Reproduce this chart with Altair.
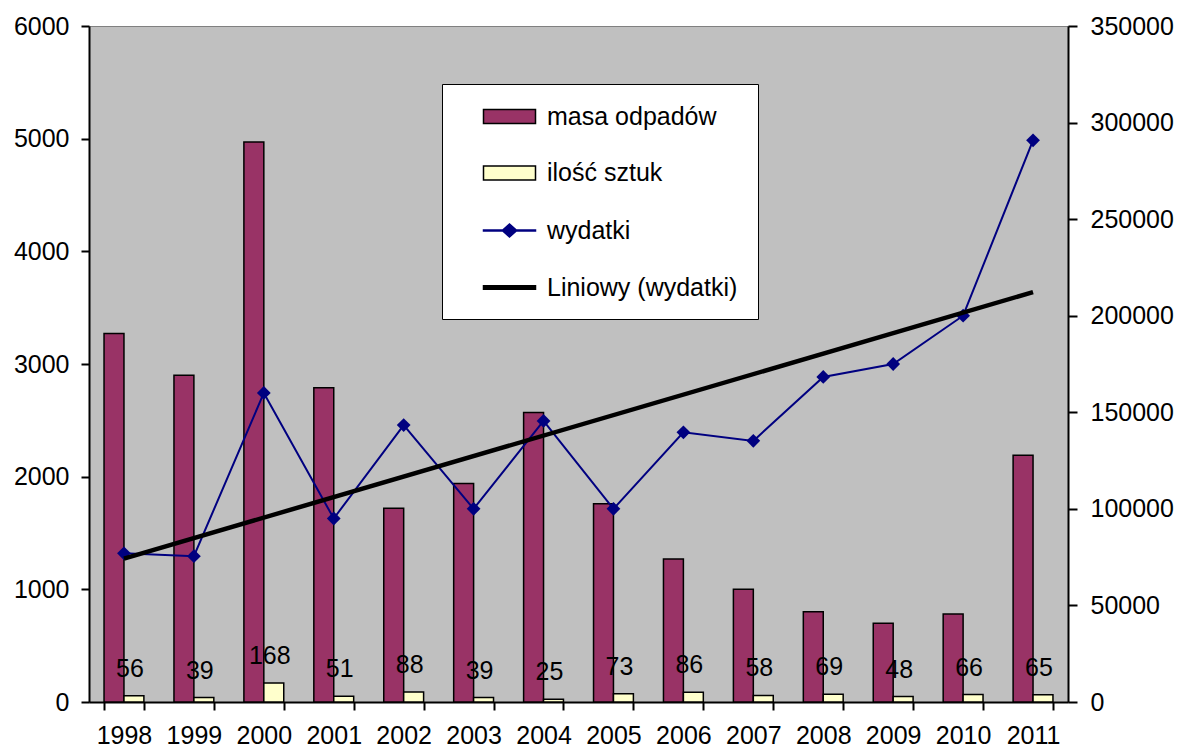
import json
import altair as alt
import pandas as pd

FONT = "Liberation Sans"

years = ["1998", "1999", "2000", "2001", "2002", "2003", "2004",
         "2005", "2006", "2007", "2008", "2009", "2010", "2011"]
masa = [3270, 2900, 4970, 2790, 1720, 1940, 2570, 1760, 1270, 1000, 800, 700, 780, 2190]
sztuk = [56, 39, 168, 51, 88, 39, 25, 73, 86, 58, 69, 48, 66, 65]
wydatki = [77000, 75500, 160000, 95000, 143400, 100000, 145500,
           100000, 139600, 135200, 168300, 175000, 200000, 290800]

series_names = ["masa odpadów", "ilość sztuk", "wydatki", "Liniowy (wydatki)"]
fill_colors = ["#993366", "#FFFFCC", "#000080", "#000000"]

rect_path = "M0.9,-0.7L6.1,-0.7L6.1,0.7L0.9,0.7Z"
diamond_line_path = ("M0.9,-0.06L2.85,-0.06L3.5,-0.65L4.15,-0.06L6.1,-0.06L6.1,0.06"
                     "L4.15,0.06L3.5,0.65L2.85,0.06L0.9,0.06Z")
thick_line_path = "M0.9,-0.17L6.1,-0.17L6.1,0.17L0.9,0.17Z"

bars_df = pd.DataFrame({
    "year": years * 2,
    "series": [series_names[0]] * len(years) + [series_names[1]] * len(years),
    "value": masa + sztuk,
})
wide_df = pd.DataFrame({"year": years, "idx": list(range(len(years))), "wydatki": wydatki})

x_enc = alt.X(
    "year:N", sort=years,
    scale=alt.Scale(domain=years, paddingInner=0.43, paddingOuter=0.215),
    axis=alt.Axis(title=None, labelAngle=0, tickBand="extent", labelPadding=13),
)
x_off = alt.XOffset("series:N", sort=series_names[:2], scale=alt.Scale(domain=series_names[:2]))

left_scale = alt.Scale(domain=[0, 6000], nice=False)
right_scale = alt.Scale(domain=[0, 350000], nice=False)

y_left = alt.Y("value:Q", scale=left_scale,
               axis=alt.Axis(values=list(range(0, 6001, 1000)), title=None, orient="left", format="d"))
y_left_noaxis = alt.Y("value:Q", scale=left_scale, axis=None)
y_right = alt.Y("wydatki:Q", scale=right_scale,
                axis=alt.Axis(values=list(range(0, 350001, 50000)), title=None, orient="right",
                              tickSize=9, labelPadding=13, format="d"))
y_right_noaxis = alt.Y("wydatki:Q", scale=right_scale, axis=None)

bars = alt.Chart(bars_df).mark_bar(stroke="black", strokeWidth=1.5).encode(
    x=x_enc, xOffset=x_off, y=y_left,
    fill=alt.Fill("series:N", scale=alt.Scale(domain=series_names[:2], range=fill_colors[:2]), legend=None),
)
labels = alt.Chart(bars_df).transform_filter(
    alt.datum.series == series_names[1]
).mark_text(font=FONT, fontSize=25, baseline="alphabetic", dy=-19, dx=-4, color="black").encode(
    x=x_enc, xOffset=x_off, y=y_left_noaxis, text="value:Q",
)
line = alt.Chart(wide_df).mark_line(
    color="#000080", strokeWidth=2,
    point=alt.OverlayMarkDef(shape="diamond", size=190, filled=True, color="#000080"),
).encode(x=x_enc, y=y_right)
trend = alt.Chart(wide_df).transform_regression(
    "idx", "wydatki", method="linear"
).transform_calculate(
    year=f"{json.dumps(years)}[round(datum.idx)]"
).mark_line(color="black", strokeWidth=4.5).encode(x=x_enc, y=y_right_noaxis)

common = dict(
    title=None, orient="none", symbolSize=400, symbolStrokeWidth=1.5, symbolOpacity=1,
    labelFont=FONT, labelFontSize=25, labelColor="black", labelOffset=60, labelLimit=500,
    fillColor="white",
)

# main legend box (all four entries, bar symbols)
leg_main = alt.Legend(legendX=353, legendY=58, padding=20, rowPadding=30.5,
                      strokeColor="black", symbolType=rect_path, symbolStrokeColor="black", **common)
legend_main = alt.Chart(pd.DataFrame({"series": series_names})).mark_point(
    filled=True, size=0, stroke="black", strokeWidth=1.5
).encode(
    x=alt.value(0),
    fill=alt.Fill("series:N", scale=alt.Scale(domain=series_names,
                                              range=fill_colors[:2] + ["white", "white"]), legend=leg_main),
)

# line-style entries drawn over rows 3 and 4 of the main legend
leg_line = alt.Legend(legendX=370, legendY=189, padding=3, strokeColor="white",
                      symbolType=diamond_line_path, symbolStrokeColor=fill_colors[2], **common)
legend_line = alt.Chart(pd.DataFrame({"series": series_names[2:3]})).mark_point(
    filled=True, size=0, stroke=fill_colors[2], strokeWidth=1.5
).encode(
    x=alt.value(0),
    fill=alt.Fill("series:N", scale=alt.Scale(domain=series_names[2:3], range=fill_colors[2:3]), legend=leg_line),
)

leg_trend = alt.Legend(legendX=370, legendY=246, padding=3, strokeColor="white",
                       symbolType=thick_line_path, symbolStrokeColor=fill_colors[3], **common)
legend_trend = alt.Chart(pd.DataFrame({"series": series_names[3:4]})).mark_point(
    filled=True, size=0, stroke=fill_colors[3], strokeWidth=1.5
).encode(
    x=alt.value(0),
    fill=alt.Fill("series:N", scale=alt.Scale(domain=series_names[3:4], range=fill_colors[3:4]), legend=leg_trend),
)

chart = alt.layer(bars, labels, line, trend, legend_main, legend_line, legend_trend).resolve_scale(
    y="independent", fill="independent"
).properties(
    width=1166, height=740,
    autosize=alt.AutoSizeParams(type="fit", contains="padding"),
    padding={"left": 5, "top": 6, "right": 0, "bottom": 0},
).configure_view(
    fill="#C0C0C0", stroke="#808080", strokeWidth=1,
).configure_axis(
    domainColor="black", domainWidth=2, tickColor="black", tickWidth=2, tickSize=8,
    labelFont=FONT, labelFontSize=25, labelColor="black", labelPadding=12, grid=False,
).configure_text(font=FONT)

chart.save("out.html", embed_options={"renderer": "svg", "actions": False})
